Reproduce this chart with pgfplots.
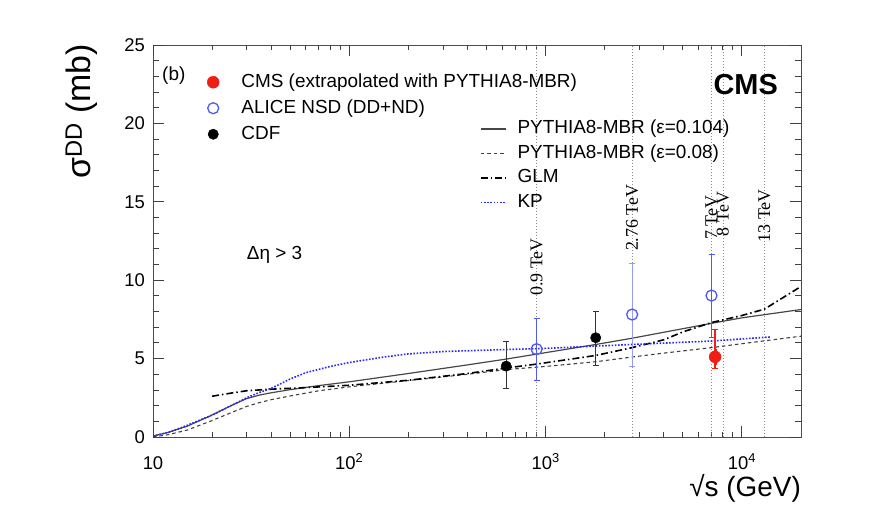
\documentclass[border=0pt]{standalone}
\usepackage{pgfplots}
\pgfplotsset{compat=1.18}
\usepackage{fontspec}
\setmainfont{Liberation Sans}
\newfontfamily\timesfont{Liberation Serif}
\definecolor{cmsred}{RGB}{240,30,20}
\definecolor{aliceblue}{RGB}{80,90,240}
\definecolor{kpblue}{RGB}{40,40,250}

\pgfplotstableread{
x y
10 0.06
12 0.3
15 0.7
20 1.4
25 2.0
30 2.45
35 2.68
40 2.82
50 3.02
70 3.28
100 3.52
200 4.05
400 4.6
630 4.97
1000 5.38
1800 5.9
2760 6.3
4000 6.68
7000 7.25
10000 7.6
20000 8.13
}\mbrA

\pgfplotstableread{
x y
10 0.0
12 0.15
15 0.45
20 1.05
25 1.55
30 1.95
35 2.2
40 2.38
50 2.62
70 2.95
100 3.2
200 3.6
400 4.0
630 4.3
1000 4.5
1800 4.8
2760 5.1
4000 5.35
7000 5.7
10000 5.95
20000 6.43
}\mbrB

\pgfplotstableread{
x y
20 2.6
25 2.8
30 2.95
40 3.05
60 3.15
100 3.3
200 3.62
400 4.05
630 4.4
900 4.65
1800 5.2
2760 5.7
4000 6.2
5000 6.7
7000 7.3
10000 7.75
13000 8.15
20000 9.6
}\glm

\pgfplotstableread{
x y
10 0.06
12 0.3
15 0.75
20 1.4
25 2.0
30 2.5
35 2.85
40 3.1
50 3.7
60 4.1
80 4.5
100 4.75
150 5.1
200 5.3
300 5.45
630 5.58
1000 5.65
1800 5.8
2760 5.9
7000 6.12
14000 6.38
}\kp

\tikzset{elab/.style={rotate=90, anchor=west, inner sep=0pt, font=\timesfont\fontsize{18}{18}\selectfont},
  tk/.style={black!75, line width=0.9bp}}

\begin{document}
\begin{tikzpicture}
\useasboundingbox (-153bp,-79bp) rectangle (723bp,437bp);

% ---------- frame, ticks, curves ----------
\begin{axis}[
  scale only axis, width=648bp, height=392bp,
  at={(0,0)}, anchor=south west,
  xmode=log, xmin=10, xmax=20000, ymin=0, ymax=25,
  axis line style={black!70, line width=0.9bp},
  tick align=inside, xtick pos=both, ytick pos=both,
  major tick style={draw=black!75, line width=0.9bp},
  minor tick style={draw=black!75, line width=0.9bp},
  major tick length=11bp, minor tick length=5.5bp,
  xtick={10,100,1000,10000},
  xticklabels={10,10\textsuperscript{2},10\textsuperscript{3},10\textsuperscript{4}},
  ytick={0,5,10,15,20,25}, minor y tick num=4,
  /pgf/number format/assume math mode=true,
  ticklabel style={font=\fontsize{18.5}{18.5}\selectfont},
  xticklabel style={anchor=base, inner sep=0pt, yshift=-32bp},
  yticklabel style={anchor=east, inner sep=0pt, xshift=-8bp},
  xlabel={√s (GeV)},
  xlabel style={at={(axis description cs:1,-0.153)}, anchor=base east, inner sep=0pt,
    font=\fontsize{28}{28}\selectfont},
  ylabel={σ\textsuperscript{DD} (mb)},
  ylabel style={at={(axis description cs:-0.11,1.003)}, anchor=east, inner sep=0pt,
    font=\fontsize{34}{34}\selectfont},
  legend cell align=left,
  legend style={draw=none, fill=none, at={(axis description cs:0.5046,0.8087)},
    anchor=north west, inner sep=0pt, outer sep=0pt, row sep=6.5bp,
    font=\fontsize{19}{19}\selectfont,
    nodes={inner sep=0pt, text height=14bp, text depth=4bp},
    /tikz/every odd column/.append style={column sep=11bp}},
  legend image code/.code={\draw[#1] (0bp,0bp) -- (25bp,0bp);},
]
% tick marks on the frame (axis coordinates only)
\pgfplotsextra{
  \foreach \v in {10,100,1000,10000} {
    \draw[tk] (axis cs:\v,0) -- (axis cs:\v,0.70);
    \draw[tk] (axis cs:\v,25) -- (axis cs:\v,24.30);
  }
  \foreach \v in {20,30,40,50,60,70,80,90,200,300,400,500,600,700,800,900,2000,3000,4000,5000,6000,7000,8000,9000} {
    \draw[tk] (axis cs:\v,0) -- (axis cs:\v,0.35);
    \draw[tk] (axis cs:\v,25) -- (axis cs:\v,24.65);
  }
  \foreach \v in {0,5,10,15,20,25} {
    \draw[tk] (axis cs:10,\v) -- (axis cs:11.38,\v);
    \draw[tk] (axis cs:20000,\v) -- (axis cs:17575,\v);
  }
  \foreach \v in {1,2,3,4,6,7,8,9,11,12,13,14,16,17,18,19,21,22,23,24} {
    \draw[tk] (axis cs:10,\v) -- (axis cs:10.67,\v);
    \draw[tk] (axis cs:20000,\v) -- (axis cs:18744,\v);
  }
}
\addplot[black!45, line width=0.6bp, dash pattern=on 1.2bp off 1.8bp, forget plot] coordinates {(900,0) (900,25)};
\addplot[black!45, line width=0.6bp, dash pattern=on 1.2bp off 1.8bp, forget plot] coordinates {(2760,0) (2760,25)};
\addplot[black!45, line width=0.6bp, dash pattern=on 1.2bp off 1.8bp, forget plot] coordinates {(7000,0) (7000,25)};
\addplot[black!45, line width=0.6bp, dash pattern=on 1.2bp off 1.8bp, forget plot] coordinates {(8000,0) (8000,25)};
\addplot[black!45, line width=0.6bp, dash pattern=on 1.2bp off 1.8bp, forget plot] coordinates {(13000,0) (13000,25)};

\addplot[black!72, line width=1.2bp] table[x=x,y=y] {\mbrA};
\addlegendentry{PYTHIA8-MBR (ε=0.104)}
\addplot[black!75, line width=1.1bp, dash pattern=on 3.5bp off 3bp] table[x=x,y=y] {\mbrB};
\addlegendentry{PYTHIA8-MBR (ε=0.08)}
\addplot[black, line width=1.6bp, dash pattern=on 7bp off 3bp on 1.5bp off 3bp] table[x=x,y=y] {\glm};
\addlegendentry{GLM}
\addplot[kpblue, line width=1.6bp, dash pattern=on 1.6bp off 1.6bp] table[x=x,y=y] {\kp};
\addlegendentry{KP}

% energy labels
\node[elab] at (axis cs:900,9.0) {0.9 TeV};
\node[elab] at (axis cs:2760,11.85) {2.76 TeV};
\node[elab, xshift=0.5bp] at (axis cs:7000,12.55) {7 TeV};
\node[elab, xshift=4bp] at (axis cs:8000,12.55) {8 TeV};
\node[elab] at (axis cs:13000,12.4) {13 TeV};

% texts
\node[anchor=base east, inner sep=0pt, font=\fontsize{21}{21}\selectfont, xshift=-6bp, yshift=10bp] at (rel axis cs:1,1) {16.2 µb\textsuperscript{-1} (7 TeV)};
\node[anchor=base east, inner sep=0pt, font=\bfseries\fontsize{29}{29}\selectfont, xshift=-23bp, yshift=-49bp] at (rel axis cs:1,1) {CMS};
\node[anchor=base west, inner sep=0pt, font=\fontsize{19}{19}\selectfont, xshift=9bp, yshift=-36bp] at (rel axis cs:0,1) {(b)};
\node[anchor=base west, inner sep=0pt, font=\fontsize{19}{19}\selectfont] at (axis cs:30,11.3) {Δη > 3};
\end{axis}

% ---------- data points ----------
\begin{axis}[
  scale only axis, width=648bp, height=392bp,
  at={(0,0)}, anchor=south west,
  xmode=log, xmin=10, xmax=20000, ymin=0, ymax=25,
  hide axis,
  legend cell align=left,
  legend style={draw=none, fill=none, at={(axis description cs:0.0772,0.928)},
    anchor=north west, inner sep=0pt, outer sep=0pt, row sep=8bp,
    font=\fontsize{19}{19}\selectfont,
    nodes={inner sep=0pt, text height=14bp, text depth=4bp},
    /tikz/every odd column/.append style={column sep=18bp}},
  legend image code/.code={\path (-10bp,0bp) (10bp,0bp); \draw[#1, only marks] plot coordinates {(0bp,0bp)};},
]
% CMS thick inner error bar
\addplot[forget plot, draw=none, mark=none,
  error bars/.cd, y dir=both, y explicit, error mark=none,
  error bar style={cmsred, line width=3bp}]
  coordinates {(7300,5.11) +- (0,0.5)};
\addplot[only marks, mark=*, mark size=6bp, color=cmsred,
  error bars/.cd, y dir=both, y explicit,
  error bar style={cmsred, line width=1.3bp},
  error mark options={rotate=90, mark size=3bp, cmsred, line width=1bp}]
  coordinates {(7300,5.11) += (0,1.75) -= (0,0.74)};
\addlegendentry{CMS (extrapolated with PYTHIA8-MBR)}

% ALICE 2.76 thin bar
\addplot[forget plot, only marks, mark=o, mark size=5.5bp, mark options={line width=1.3bp}, color=aliceblue,
  error bars/.cd, y dir=both, y explicit,
  error bar style={aliceblue!60, line width=0.8bp},
  error mark options={rotate=90, mark size=3bp, aliceblue!60, line width=0.8bp}]
  coordinates {(2760,7.81) += (0,3.25) -= (0,3.29)};
\addplot[only marks, mark=o, mark size=5.5bp, mark options={line width=1.3bp, fill=white}, color=aliceblue,
  error bars/.cd, y dir=both, y explicit,
  error bar style={aliceblue, line width=1.4bp},
  error mark options={rotate=90, mark size=3bp, aliceblue, line width=1bp}]
  coordinates {(900,5.6) +- (0,1.97) (7000,9.02) += (0,2.62) -= (0,2.67)};
\addlegendentry{ALICE NSD (DD+ND)}

\addplot[only marks, mark=*, mark size=5.2bp, color=black,
  error bars/.cd, y dir=both, y explicit,
  error bar style={black!80, line width=1.1bp},
  error mark options={rotate=90, mark size=3bp, black!80, line width=1bp}]
  coordinates {(630,4.52) += (0,1.55) -= (0,1.42) (1800,6.33) += (0,1.65) -= (0,1.74)};
\addlegendentry{CDF}
\end{axis}
\end{tikzpicture}
\end{document}
